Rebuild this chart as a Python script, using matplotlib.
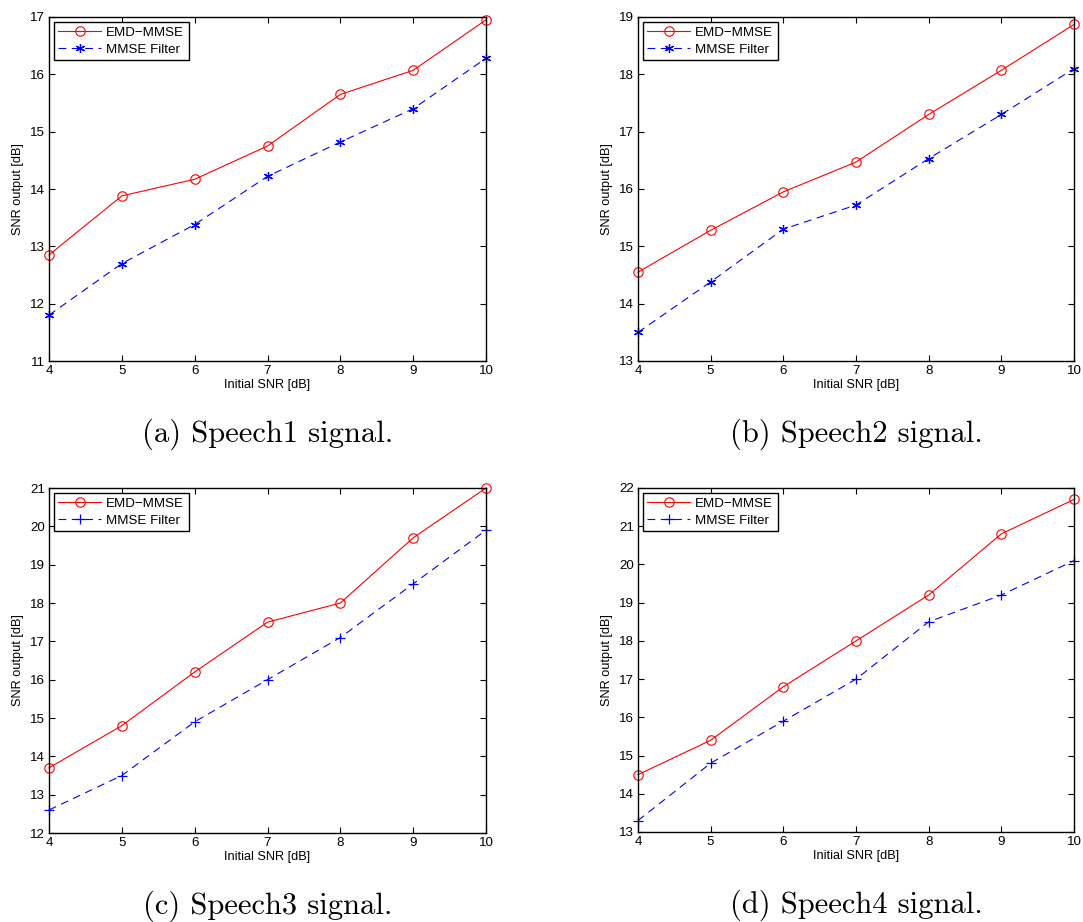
import numpy as np
import matplotlib.pyplot as plt

x = [4, 5, 6, 7, 8, 9, 10]

emd_1 = [12.85, 13.88, 14.17, 14.75, 15.65, 16.07, 16.95]
mmse_1 = [11.80, 12.70, 13.38, 14.22, 14.82, 15.40, 16.28]
emd_2 = [14.55, 15.28, 15.95, 16.47, 17.30, 18.07, 18.87]
mmse_2 = [13.50, 14.38, 15.30, 15.72, 16.53, 17.30, 18.10]
emd_3 = [13.7, 14.8, 16.2, 17.5, 18.0, 19.7, 21.0]
mmse_3 = [12.6, 13.5, 14.9, 16.0, 17.1, 18.5, 19.9]
emd_4 = [14.5, 15.4, 16.8, 18.0, 19.2, 20.8, 21.7]
mmse_4 = [13.3, 14.8, 15.9, 17.0, 18.5, 19.2, 20.1]

ylims = [(11, 17), (13, 19), (12, 21), (13, 22)]
captions = ['(a) Speech1 signal.', '(b) Speech2 signal.',
            '(c) Speech3 signal.', '(d) Speech4 signal.']

plt.rcParams['font.family'] = ['Liberation Sans', 'DejaVu Sans']

W, H = 1083, 922
fig = plt.figure(figsize=(W / 100, H / 100), dpi=100)

# axes boxes in pixels: left, top, right, bottom
boxes = [(49, 17, 486, 361), (638, 17, 1074, 361),
         (49, 488, 486, 833), (638, 488, 1074, 832)]

series = [(emd_1, mmse_1), (emd_2, mmse_2), (emd_3, mmse_3), (emd_4, mmse_4)]
# MATLAB-like asterisk for the first two, plus for the last two
star = (6, 2, 0)
mmse_markers = [star, star, '+', '+']
mmse_ms = [6.5, 6.5, 7, 7]

for i, (l, t, r, b) in enumerate(boxes):
    ax = fig.add_axes([l / W, 1 - b / H, (r - l) / W, (b - t) / H])
    emd, mmse = series[i]
    ax.plot(x, emd, '-', color='red', lw=0.8, marker='o', ms=6.8,
            mfc='none', mec='red', mew=0.8, label='EMD\u2212MMSE', clip_on=False)
    ax.plot(x, mmse, '--', color='blue', lw=0.8, marker=mmse_markers[i],
            ms=mmse_ms[i], mec='blue', mew=0.9, dashes=(7, 5),
            label='MMSE Filter', clip_on=False)
    ax.set_xlim(4, 10)
    ax.set_ylim(*ylims[i])
    ax.set_xticks(x)
    ax.set_yticks(np.arange(ylims[i][0], ylims[i][1] + 1))
    ax.tick_params(direction='in', top=True, right=True, labelsize=9.6,
                   length=4, width=0.8, pad=3)
    for s in ax.spines.values():
        s.set_linewidth(1.0)
    ax.set_xlabel('Initial SNR [dB]', fontsize=9.2, labelpad=1)
    ax.set_ylabel('SNR output [dB]', fontsize=9.2, labelpad=4)
    leg = ax.legend(loc='upper left', fontsize=9.6, fancybox=False,
                    edgecolor='black', framealpha=1, borderaxespad=0.35,
                    handlelength=3.2, borderpad=0.35, labelspacing=0.35,
                    handletextpad=0.4)
    leg.get_frame().set_linewidth(1.0)
    cx = (l + r) / 2 / W
    cy = 1 - (b + 73) / H
    fig.text(cx, cy, captions[i], ha='center', va='center',
             fontsize=22, family='cmr10')

fig.savefig('out.png', dpi=100)
